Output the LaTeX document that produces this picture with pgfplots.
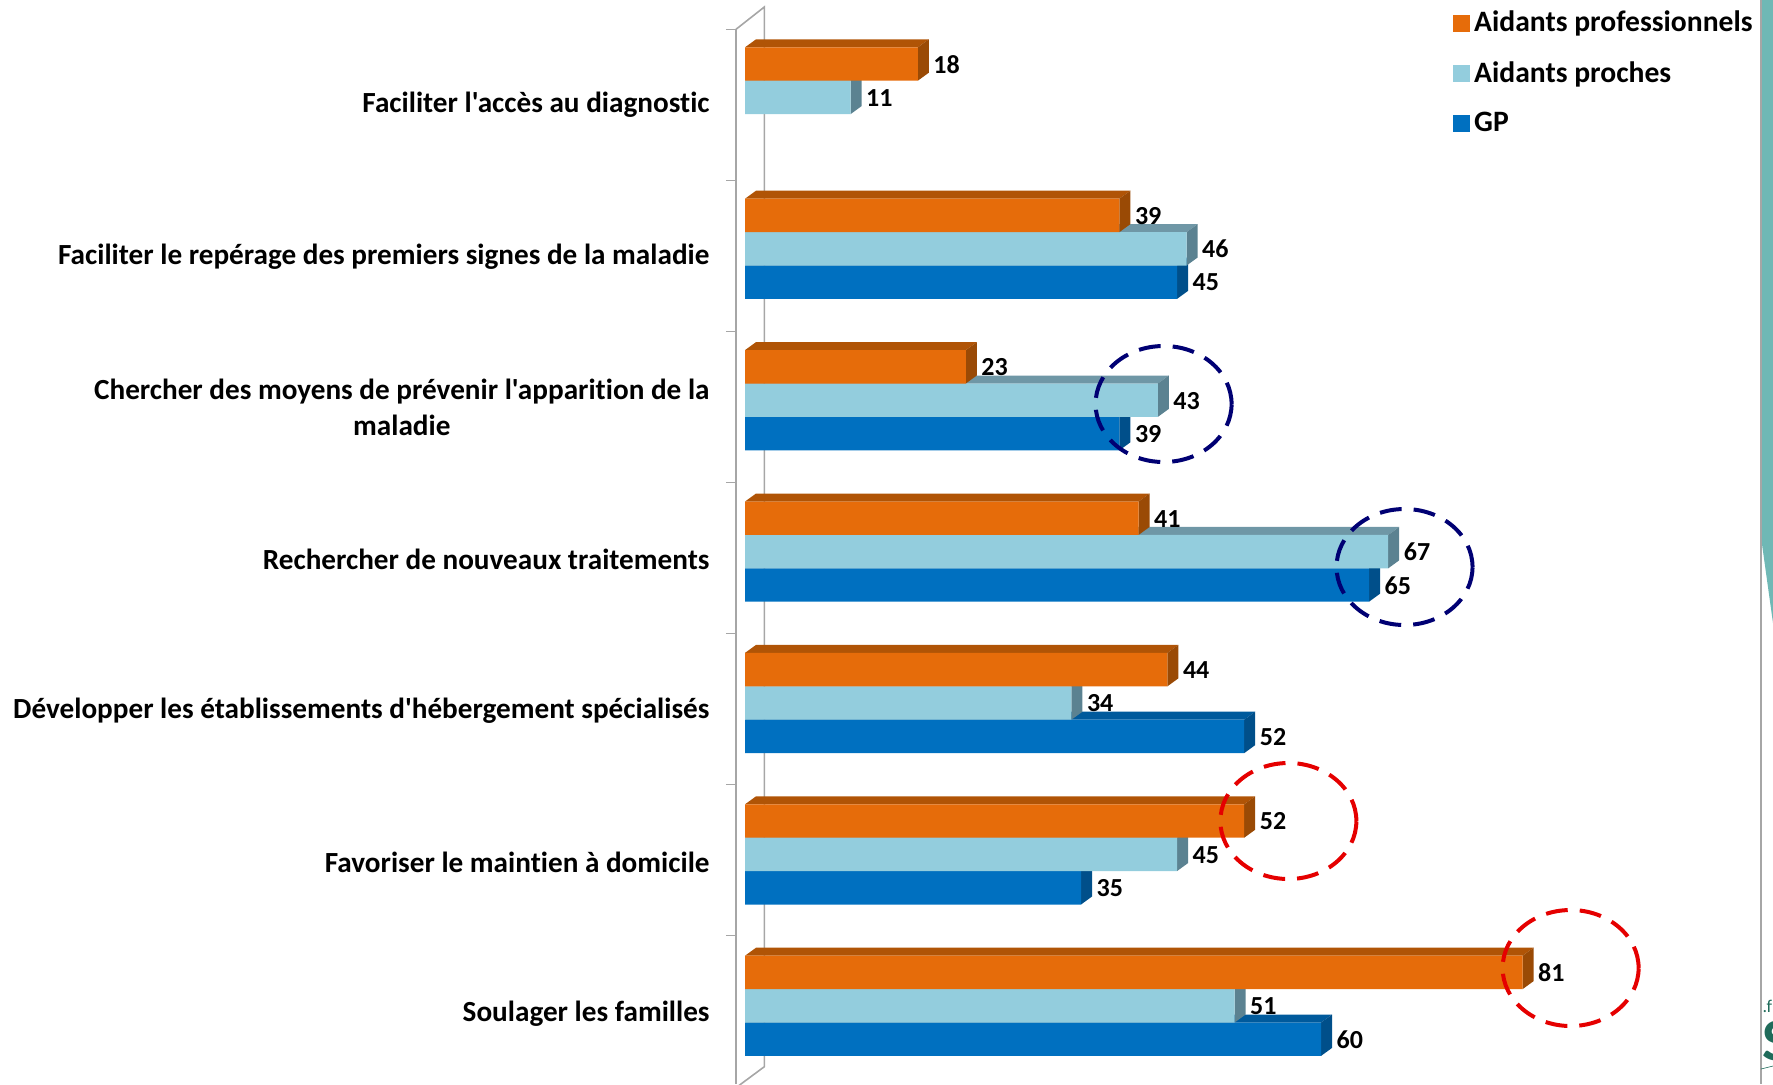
\documentclass[border=0pt]{standalone}
\usepackage{pgfplots}
\usepackage{fontspec}
\setmainfont{Carlito}[Ligatures={TeXOff,NoCommon}]
\pgfplotsset{compat=1.18}
\definecolor{orF}{HTML}{E66C0A}\definecolor{orT}{HTML}{B05406}\definecolor{orS}{HTML}{9A4A05}
\definecolor{ltF}{HTML}{93CDDD}\definecolor{ltT}{HTML}{6F97A6}\definecolor{ltS}{HTML}{5B8291}
\definecolor{blF}{HTML}{0070C0}\definecolor{blT}{HTML}{005A9C}\definecolor{blS}{HTML}{004F8A}
\definecolor{wall}{HTML}{A6A6A6}\definecolor{teal1}{HTML}{6FB8B5}\definecolor{logo}{HTML}{1F6B5A}
\newcommand\faces[4]{%
  \pgfmathsetmacro\xa{#1+1.146}%
  \pgfmathsetmacro\yt{#2-16.7}%
  \pgfmathsetmacro\yb{#2+16.7}%
  \pgfmathsetmacro\ytt{#2-24.7}%
  \pgfmathsetmacro\ybb{#2+8.7}%
  \addplot[forget plot,fill=#3,draw=none] coordinates {(0,\yt) (#1,\yt) (\xa,\ytt) (1.146,\ytt)} --cycle;
  \addplot[forget plot,fill=#4,draw=none] coordinates {(#1,\yt) (\xa,\ytt) (\xa,\ybb) (#1,\yb)} --cycle;
}
\pgfplotsset{bars/.style={forget plot,draw=none,
  xbar, bar width=16.7pt, bar shift=0pt,
  point meta=x,
  nodes near coords={\fontsize{13}{15}\selectfont\bfseries\pgfmathprintnumber[assume math mode=true]{\pgfplotspointmeta}},
  nodes near coords align={horizontal},
  every node near coord/.append style={inner sep=0pt,xshift=7.6pt,yshift=-0.2pt,anchor=west,text=black}}}
\begin{document}
\begin{tikzpicture}
\useasboundingbox (-368pt,0pt) rectangle (518.5pt,542pt);
\begin{axis}[
  scale only axis, width=518.5pt, height=527.35pt,
  xmin=-0.94, xmax=107.08, ymin=29.3, ymax=1084, y dir=reverse,
  clip=false,
  axis x line=none, axis y line=left,
  axis line style={wall,line width=0.8pt,-},
  ytick={104,255.5,406,558,710,861,1013},
  yticklabels={Faciliter l'accès au diagnostic,
    Faciliter le repérage des premiers signes de la maladie,
    {Chercher des moyens de prévenir l'apparition de la\\[2pt]maladie},
    Rechercher de nouveaux traitements,
    Développer les établissements d'hébergement spécialisés,
    Favoriser le maintien à domicile,
    Soulager les familles},
  minor ytick={29.3,180.4,331.4,482.5,633.6,784.7,935.7},
  tick align=outside, ytick pos=left,
  major tick length=0pt, minor tick length=5pt,
  minor tick style={wall,line width=0.6pt},
  major tick style={draw=none},
  yticklabel style={font=\fontsize{14.6}{16}\selectfont\bfseries,align=center,inner sep=0pt,xshift=-13pt,yshift=-0.6pt,text=black},
  legend style={draw=none,fill=none,inner sep=0pt,
    at={(axis description cs:0.6914,1.0215)},anchor=north west,
    font=\fontsize{14.8}{16}\selectfont\bfseries,
    row sep=9.5pt,
    /tikz/every even column/.append style={column sep=3pt}},
  legend cell align=left,
  legend image code/.code={\fill[#1] (0pt,-4pt) rectangle (8pt,4pt);},
]
\addlegendimage{orF}\addlegendentry{Aidants professionnels}
\addlegendimage{ltF}\addlegendentry{Aidants proches}
\addlegendimage{blF}\addlegendentry{GP}

% back wall
\draw[wall,line width=0.8pt] (axis cs:-0.94,29.3) -- (axis cs:2.01,7) -- (axis cs:2.01,1066.7) -- (axis cs:-0.7,1086);

% GP
\faces{45}{282.2}{blT}{blS}
\faces{39}{433.6}{blT}{blS}
\faces{65}{585}{blT}{blS}
\faces{52}{736.4}{blT}{blS}
\faces{35}{887.8}{blT}{blS}
\faces{60}{1039.2}{blT}{blS}
\addplot[bars,fill=blF] coordinates {(45,282.2) (39,433.6) (65,585) (52,736.4) (35,887.8) (60,1039.2)};

% Aidants proches
\faces{11}{97.4}{ltT}{ltS}
\faces{46}{248.8}{ltT}{ltS}
\faces{43}{400.2}{ltT}{ltS}
\faces{67}{551.6}{ltT}{ltS}
\faces{34}{703}{ltT}{ltS}
\faces{45}{854.4}{ltT}{ltS}
\faces{51}{1005.8}{ltT}{ltS}
\addplot[bars,fill=ltF] coordinates {(11,97.4) (46,248.8) (43,400.2) (67,551.6) (34,703) (45,854.4) (51,1005.8)};

% Aidants professionnels
\faces{18}{64}{orT}{orS}
\faces{39}{215.4}{orT}{orS}
\faces{23}{366.8}{orT}{orS}
\faces{41}{518.2}{orT}{orS}
\faces{44}{669.6}{orT}{orS}
\faces{52}{821}{orT}{orS}
\faces{81}{972.4}{orT}{orS}
\addplot[bars,fill=orF] coordinates {(18,64) (39,215.4) (23,366.8) (41,518.2) (44,669.6) (52,821) (81,972.4)};

% dashed circles
\draw[color=blue!45!black,line width=2pt,dash pattern=on 11pt off 6pt] (axis cs:43.6,404) ellipse [x radius=34pt,y radius=29pt];
\draw[color=blue!45!black,line width=2pt,dash pattern=on 11pt off 6pt] (axis cs:68.7,567) ellipse [x radius=34pt,y radius=29pt];
\draw[color=red!90!black,line width=2pt,dash pattern=on 11pt off 6pt] (axis cs:56.6,821) ellipse [x radius=34pt,y radius=29pt];
\draw[color=red!90!black,line width=2pt,dash pattern=on 11pt off 6pt] (axis cs:86,968) ellipse [x radius=34pt,y radius=29pt];

% right edge
\fill[teal1] (axis cs:105.83,0) -- (axis cs:107.08,0) -- (axis cs:107.08,623) -- (axis cs:105.83,537) -- cycle;
\draw[wall,line width=0.9pt] (axis cs:105.83,0) -- (axis cs:105.83,1084);
\node[text=logo,font=\fontsize{9}{9}\selectfont,inner sep=0pt,anchor=west] at (axis cs:105.95,1006) {.f};
\node[text=logo,font=\fontsize{30}{30}\selectfont\bfseries,inner sep=0pt,anchor=west] at (axis cs:105.94,1041) {S};
\draw[logo,line width=0.3pt] (axis cs:105.83,1069) -- (axis cs:107.08,1066);
\end{axis}
\end{tikzpicture}
\end{document}
